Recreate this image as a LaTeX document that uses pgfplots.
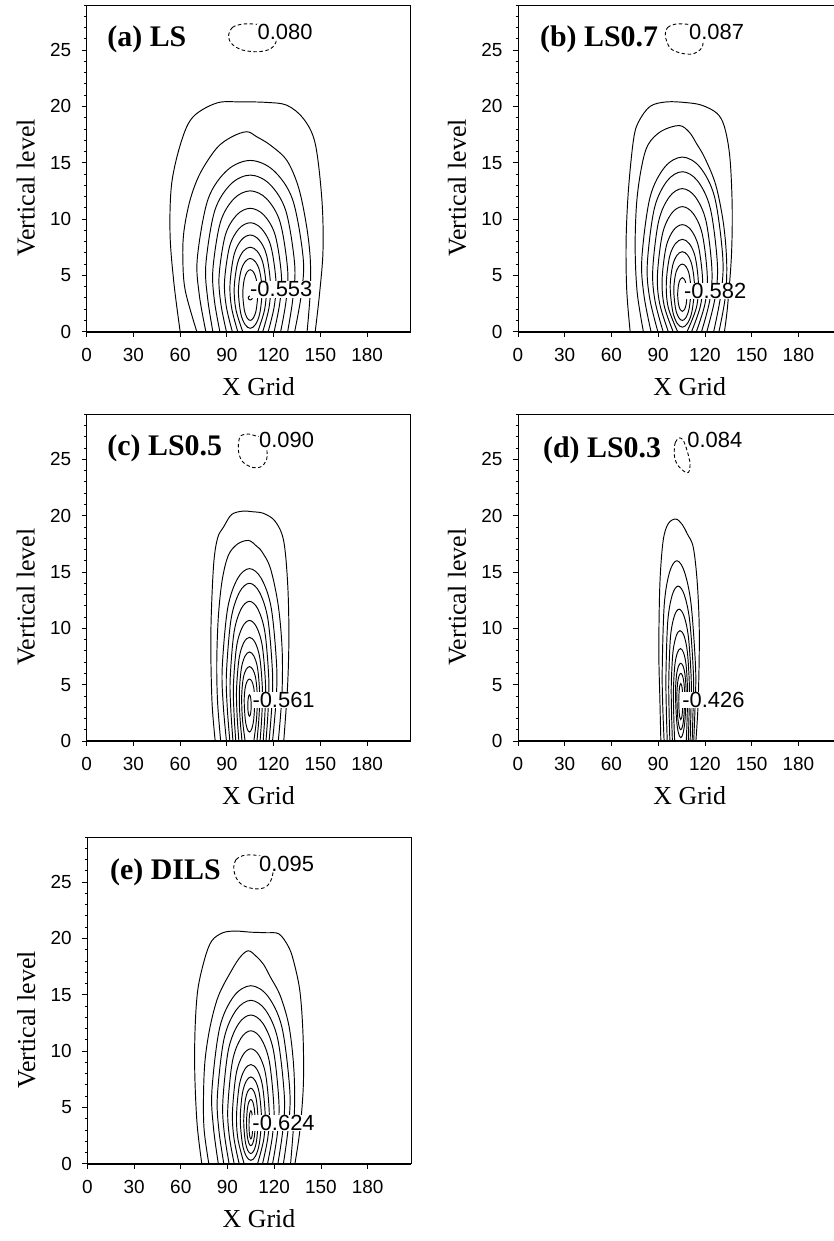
\documentclass[border=0pt]{standalone}
\usepackage{fontspec}
\setmainfont{Liberation Serif}
\setsansfont{Liberation Sans}
\usepackage{pgfplots}
\pgfplotsset{compat=1.18}
\pgfplotsset{
 panel/.style={
  scale only axis, width=324bp, height=326.7bp, anchor=south west,
  xmin=0, xmax=208, ymin=0, ymax=29, clip=false,
  xtick={0,30,60,90,120,150,180}, ytick={0,5,10,15,20,25},
  minor ytick={1,2,3,4,6,7,8,9,11,12,13,14,16,17,18,19,21,22,23,24,26,27,28,29},
  xtick pos=left, ytick pos=left, tick align=outside,
  major tick length=5bp, minor tick length=2.5bp,
  every tick/.style={black, line width=0.8bp},
  axis line style={line width=0.8bp},
  tick label style={font=\sffamily\fontsize{19}{19}\selectfont},
  xticklabel style={yshift=-8bp},
  yticklabel style={xshift=-7bp},
  /pgf/number format/assume math mode=true,
  xlabel={X Grid}, ylabel={Vertical level},
  every axis x label/.style={at={(axis description cs:0.53,-0.168)}, anchor=center, font=\fontsize{26}{26}\selectfont},
  every axis y label/.style={at={(axis description cs:-0.188,0.44)}, anchor=center, rotate=90, font=\fontsize{26}{26}\selectfont},
 },
 cnt/.style={black, line width=0.95bp, smooth, tension=0.55, mark=none},
 cntc/.style={black, line width=0.95bp, smooth cycle, tension=0.55, mark=none},
 dsh/.style={black, line width=0.9bp, smooth cycle, tension=0.55, mark=none, dash pattern=on 3.5bp off 2.5bp},
}
\newcommand{\plab}{\bfseries\fontsize{30}{30}\selectfont}
\newcommand{\clab}{\sffamily\fontsize{22}{22}\selectfont}
\begin{document}
\begin{tikzpicture}
\useasboundingbox (0,0) rectangle (834bp,1241bp);
%================ (a) LS
\begin{axis}[panel, at={(86.7bp,909.3bp)}]
\addplot[cnt] coordinates {(60,0) (56,4.3) (53.5,8.7) (54.6,13.2) (61,17) (68.5,19.1) (83.5,20.3) (98.5,20.4) (115.7,20.35) (128.5,20.1) (139.2,18.9) (146.7,16.7) (151,11.7) (151.7,7.2) (149.5,3.4) (146.7,0)};
\addplot[cnt] coordinates {(70.7,0) (63.2,3.7) (61.7,6.66) (62.5,9.0) (66.4,11.7) (72.8,14.05) (83.5,16.3) (93.2,17.3) (102.8,17.75) (109.2,17.3) (117.8,16.57) (128.5,15.2) (136,12.8) (141,9.5) (143.5,6.5) (143.5,3.5) (141.5,0)};
\addplot[cnt] coordinates {(76.5,0)(72.3,3.25)(71,6.5)(77.8,11.72)(90.2,14.33)(105,15.2)(119.8,14.33)(132.2,11.72)(139,6.5)(137.7,3.25)(133.5,0)};
\addplot[cnt] coordinates {(81,0)(77.6,3)(76.5,6)(82.2,10.74)(92.6,13.11)(105,13.9)(117.4,13.11)(127.8,10.74)(133.5,6)(132.4,3)(129,0)};
\addplot[cnt] coordinates {(85.5,0)(82,2.75)(81,5.5)(85.8,9.7)(94.5,11.8)(105,12.5)(115.5,11.8)(124.2,9.7)(129,5.5)(128,2.75)(124.5,0)};
\addplot[cnt] coordinates {(89.7,0)(86.1,2.5)(85,5)(89,8.57)(96.3,10.36)(105,10.95)(113.7,10.36)(121,8.57)(125,5)(123.9,2.5)(120.3,0)};
\addplot[cnt] coordinates {(93.5,0)(89.6,2.25)(88.5,4.5)(91.8,7.6)(97.8,9.15)(105,9.67)(112.2,9.15)(118.2,7.6)(121.5,4.5)(120.4,2.25)(116.5,0)};
\addplot[cnt] coordinates {(97,0)(93.05,2.1)(92,4.2)(94.6,6.83)(99.3,8.14)(105,8.58)(110.7,8.14)(115.4,6.83)(118,4.2)(117,2.1)(113,0)};
\addplot[cnt] coordinates {(100.2,0)(95.8,1.95)(94.7,3.9)(96.8,6.06)(100.5,7.14)(105,7.5)(109.5,7.14)(113.2,6.06)(115.3,3.9)(114.2,1.95)(109.8,0)};
\addplot[cntc] coordinates {(105,6.5)(108.3,6.21)(111.1,5.34)(112.6,3.6)(111.1,1.62)(108.3,0.63)(105,0.3)(101.7,0.63)(98.9,1.62)(97.4,3.6)(98.9,5.34)(101.7,6.21)};
\addplot[cntc] coordinates {(105,5.5)(107.1,5.29)(108.84,4.66)(109.8,3.4)(108.84,1.96)(107.1,1.24)(105,1.0)(102.9,1.24)(101.16,1.96)(100.2,3.4)(101.16,4.66)(102.9,5.29)};
\addplot[cntc] coordinates {(106.3,3.0)(105.9,3.13)(105,3.18)(104.1,3.13)(103.7,3.0)(104.1,2.87)(105,2.82)(105.9,2.87)};
\addplot[dsh] coordinates {(91,26.2)(93.5,27.0)(100,27.3)(108,27.3)(116,27.1)(121,26.4)(121.5,25.7)(118,25.1)(110,24.85)(100,25.0)(93.5,25.5)};
\node[anchor=west, font=\clab, fill=white, inner sep=0.5pt] at (axis cs:109.3,26.6) {0.080};
\node[anchor=west, font=\clab, fill=white, inner sep=0.5pt] at (axis cs:104.5,3.75) {-0.553};
\node[anchor=base west, font=\plab, inner sep=0pt] at (axis cs:13.2,25.35) {(a) LS};
\draw[line width=1.8bp] (rel axis cs:0,0) -- (rel axis cs:1,0);
\end{axis}
%================ (b) LS0.7
\begin{axis}[panel, at={(518bp,909.3bp)}]
\addplot[cnt] coordinates {(72,0)(69.8,3.7)(69.4,8.1)(70.9,12.6)(74.1,17)(77.3,18.6)(84.8,20)(95.5,20.4)(108.3,20.33)(118,20.1)(127.6,19.4)(132.5,18.2)(136,15.5)(137.5,11.1)(137,6.7)(134.5,2.2)(132.5,0)};
\addplot[cnt] coordinates {(80.5,0)(76.5,3.5)(75.2,7.5)(76.2,11.5)(79.3,14.6)(83.5,16.6)(92,17.8)(103.5,18.3)(110,17.7)(114.6,16.7)(120,15.4)(127,13)(132,9.5)(134,6)(133,3)(129,0)};
\addplot[cnt] coordinates {(85.4,0)(80.84,3.25)(79.5,6.5)(84.7,11.9)(94.16,14.6)(105.5,15.5)(116.84,14.6)(126.3,11.9)(131.5,6.5)(130.16,3.25)(125.6,0)};
\addplot[cnt] coordinates {(89.8,0)(84.5,3)(83,6)(87.5,10.92)(95.69,13.38)(105.5,14.2)(115.31,13.38)(123.5,10.92)(128,6)(126.5,3)(121.2,0)};
\addplot[cnt] coordinates {(93.2,0)(87.93,2.75)(86.5,5.5)(90.3,9.82)(97.22,11.98)(105.5,12.7)(113.78,11.98)(120.7,9.82)(124.5,5.5)(123.07,2.75)(117.8,0)};
\addplot[cnt] coordinates {(96.5,0)(90.93,2.5)(89.5,5)(92.7,8.66)(98.52,10.49)(105.5,11.1)(112.48,10.49)(118.3,8.66)(121.5,5)(120.07,2.5)(114.5,0)};
\addplot[cnt] coordinates {(99.6,0)(93.86,2.3)(92.5,4.6)(95.1,7.54)(99.83,9.01)(105.5,9.5)(111.17,9.01)(115.9,7.54)(118.5,4.6)(117.14,2.3)(111.4,0)};
\addplot[cnt] coordinates {(102.5,0)(96.45,2.15)(95.2,4.3)(97.26,6.64)(101.01,7.81)(105.5,8.2)(109.99,7.81)(113.74,6.64)(115.8,4.3)(114.55,2.15)(108.5,0)};
\addplot[cntc] coordinates {(105.5,7.1)(108.9,6.79)(111.74,5.86)(113.3,4)(111.74,1.84)(108.9,0.76)(105.5,0.4)(102.1,0.76)(99.26,1.84)(97.7,4)(99.26,5.86)(102.1,6.79)};
\addplot[cntc] coordinates {(105.5,6)(107.9,5.77)(109.9,5.08)(111,3.7)(109.9,2.08)(107.9,1.27)(105.5,1)(103.1,1.27)(101.1,2.08)(100,3.7)(101.1,5.08)(103.1,5.77)};
\addplot[cntc] coordinates {(105.5,4.8)(106.81,4.65)(107.9,4.2)(108.5,3.3)(107.9,2.4)(106.81,1.95)(105.5,1.8)(104.19,1.95)(103.1,2.4)(102.5,3.3)(103.1,4.2)(104.19,4.65)};
\addplot[dsh] coordinates {(94.5,26.3)(96,27.0)(101,27.3)(108,27.3)(114,27.1)(118.5,26.2)(118,25.2)(112,24.65)(104,24.75)(97.5,25.2)};
\node[anchor=west, font=\clab, fill=white, inner sep=0.5pt] at (axis cs:109.4,26.57) {0.087};
\node[anchor=west, font=\clab, fill=white, inner sep=0.5pt] at (axis cs:106.2,3.6) {-0.582};
\node[anchor=base west, font=\plab, inner sep=0pt] at (axis cs:14.1,25.35) {(b) LS0.7};
\draw[line width=1.8bp] (rel axis cs:0,0) -- (rel axis cs:1,0);
\end{axis}
%================ (c) LS0.5
\begin{axis}[panel, at={(86.7bp,500bp)}]
\addplot[cnt] coordinates {(82.5,0)(80.4,3.6)(79.7,9.5)(81.4,15.5)(84,18)(87.9,19.0)(93,20.1)(100,20.4)(106.5,20.35)(113.6,20.2)(121,19.5)(126.4,17.8)(129,14)(129.8,9.5)(129,5)(126.5,0)};
\addplot[cnt] coordinates {(86,0)(84,3.5)(83.5,7)(84.5,11)(87,14.3)(91,16.5)(97,17.5)(104,17.8)(109,17.3)(112.5,16.8)(118,15.3)(123,12)(125.5,8)(125.3,4)(123,0)};
\addplot[cnt] coordinates {(89.7,0)(87.63,3.25)(87,6.5)(90.5,11.78)(96.87,14.42)(104.5,15.3)(112.13,14.42)(118.5,11.78)(122,6.5)(121.37,3.25)(119.3,0)};
\addplot[cnt] coordinates {(91.9,0)(90.22,3)(89.7,6)(92.66,10.8)(98.05,13.2)(104.5,14)(110.95,13.2)(116.34,10.8)(119.3,6)(118.78,3)(117.1,0)};
\addplot[cnt] coordinates {(93.9,0)(92.53,2.75)(92.1,5.5)(94.58,9.64)(99.09,11.71)(104.5,12.4)(109.91,11.71)(114.42,9.64)(116.9,5.5)(116.47,2.75)(115.1,0)};
\addplot[cnt] coordinates {(95.7,0)(94.56,2.5)(94.2,5)(96.26,8.42)(100.01,10.13)(104.5,10.7)(108.99,10.13)(112.74,8.42)(114.8,5)(114.44,2.5)(113.3,0)};
\addplot[cnt] coordinates {(97.7,0)(96.55,2.3)(96.2,4.6)(97.86,7.36)(100.88,8.74)(104.5,9.2)(108.12,8.74)(111.14,7.36)(112.8,4.6)(112.45,2.3)(111.3,0)};
\addplot[cnt] coordinates {(99.7,0)(98.38,2.15)(98,4.3)(99.3,6.46)(101.67,7.54)(104.5,7.9)(107.33,7.54)(109.7,6.46)(111,4.3)(110.62,2.15)(109.3,0)};
\addplot[cnt] coordinates {(101.7,0)(99.95,2)(99.5,4)(100.5,5.56)(102.32,6.34)(104.5,6.6)(106.68,6.34)(108.5,5.56)(109.5,4)(109.05,2)(107.3,0)};
\addplot[cntc] coordinates {(104.5,5.5)(105.98,5.31)(107.22,4.74)(107.9,3.6)(107.22,1.92)(105.98,1.08)(104.5,0.8)(103.02,1.08)(101.78,1.92)(101.1,3.6)(101.78,4.74)(103.02,5.31)};
\addplot[cntc] coordinates {(104.5,4.1)(104.98,4.0)(105.38,3.72)(105.6,3.15)(105.38,2.58)(104.98,2.3)(104.5,2.2)(104.02,2.3)(103.62,2.58)(103.4,3.15)(103.62,3.72)(104.02,4.0)};
\addplot[dsh] coordinates {(97.5,26.5)(99,27.1)(104,27.25)(108,27.1)(113,26.9)(115.5,26)(115.5,25)(112,24.35)(106,24.3)(100,24.8)(97.6,25.6)};
\node[anchor=west, font=\clab, fill=white, inner sep=0.5pt] at (axis cs:110.3,26.7) {0.090};
\node[anchor=west, font=\clab, fill=white, inner sep=0.5pt] at (axis cs:106,3.64) {-0.561};
\node[anchor=base west, font=\plab, inner sep=0pt] at (axis cs:13.2,25.35) {(c) LS0.5};
\draw[line width=1.8bp] (rel axis cs:0,0) -- (rel axis cs:1,0);
\end{axis}
%================ (d) LS0.3
\begin{axis}[panel, at={(518bp,500bp)}]
\addplot[cnt] coordinates {(91.7,0)(91.1,3.6)(90.4,8.1)(91.1,14)(93.2,17.8)(96.5,19.3)(101.4,19.7)(105.5,19.2)(108.6,18.4)(112.5,17.2)(115.1,14)(116.4,9.5)(115.7,3.6)(114.2,0)};
\addplot[cnt] coordinates {(93.8,0)(92.89,3.25)(92.6,6.5)(93.94,12.2)(97.43,15.05)(102,16)(106.77,15.05)(111.06,12.2)(114,6.5)(113.71,3.25)(112.8,0)};
\addplot[cnt] coordinates {(95.8,0)(95.19,3)(95,6)(96.16,10.65)(99.06,12.98)(102.8,13.75)(106.74,12.98)(110.24,10.65)(112.6,6)(112.41,3)(111.8,0)};
\addplot[cnt] coordinates {(97.5,0)(96.97,2.75)(96.8,5.5)(97.88,9.22)(100.32,11.08)(103.4,11.7)(106.6,11.08)(109.4,9.22)(111.2,5.5)(111.03,2.75)(110.5,0)};
\addplot[cnt] coordinates {(99.1,0)(98.57,2.5)(98.4,5)(99.46,7.88)(101.57,9.32)(104,9.8)(106.63,9.32)(108.74,7.88)(110,5)(109.83,2.5)(109.3,0)};
\addplot[cnt] coordinates {(100.55,0)(99.98,2.3)(99.8,4.6)(100.7,6.76)(102.34,7.84)(104.3,8.2)(106.26,7.84)(107.9,6.76)(108.8,4.6)(108.62,2.3)(108.05,0)};
\addplot[cntc] coordinates {(104.5,6.9)(105.98,6.64)(107.22,5.86)(107.9,4.3)(107.22,1.9)(105.98,0.7)(104.5,0.3)(103.02,0.7)(101.78,1.9)(101.1,4.3)(101.78,5.86)(103.02,6.64)};
\addplot[cntc] coordinates {(104.5,6)(105.59,5.8)(106.5,5.2)(107,4)(106.5,2.2)(105.59,1.3)(104.5,1)(103.41,1.3)(102.5,2.2)(102,4)(102.5,5.2)(103.41,5.8)};
\addplot[cntc] coordinates {(104.5,5.1)(105.07,4.94)(105.54,4.46)(105.8,3.5)(105.54,2.54)(105.07,2.06)(104.5,1.9)(103.93,2.06)(103.46,2.54)(103.2,3.5)(103.46,4.46)(103.93,4.94)};
\addplot[dsh] coordinates {(100.3,25.7)(101,26.5)(103.5,26.9)(106,26.7)(108.5,25.8)(110.5,24.6)(109.5,23.85)(107,23.9)(103,24.4)(100.8,25)};
\node[anchor=west, font=\clab, fill=white, inner sep=0.5pt] at (axis cs:108.3,26.7) {0.084};
\node[anchor=west, font=\clab, fill=white, inner sep=0.5pt] at (axis cs:105.1,3.64) {-0.426};
\node[anchor=base west, font=\plab, inner sep=0pt] at (axis cs:16,25.2) {(d) LS0.3};
\draw[line width=1.8bp] (rel axis cs:0,0) -- (rel axis cs:1,0);
\end{axis}
%================ (e) DILS
\begin{axis}[panel, at={(87.3bp,77.3bp)}]
\addplot[cnt] coordinates {(73.5,0)(70.5,3.5)(69,8)(69.2,12)(71,15.5)(75.6,18.3)(80,19.8)(87,20.5)(95,20.65)(105,20.55)(115,20.5)(123,20.4)(129,19.3)(132.4,18)(136.5,15.3)(138.5,11.4)(138.7,7)(136.5,3)(133.3,0)};
\addplot[cnt] coordinates {(78,0)(75,3)(74.6,6)(75.6,9.2)(78.9,12.2)(84.2,14.9)(92.8,17.2)(98.5,18.4)(103.5,18.9)(108.5,18.4)(113.1,17.7)(117.4,16.6)(123.9,14.9)(129.5,12.2)(132.5,8.6)(133,4.8)(130.5,0)};
\addplot[cnt] coordinates {(84.1,0)(80.96,3.25)(80,6.5)(85,12.08)(94.1,14.87)(105,15.8)(115.9,14.87)(125,12.08)(130,6.5)(129.04,3.25)(125.9,0)};
\addplot[cnt] coordinates {(87.65,0)(84.46,3)(83.5,6)(87.8,11.1)(95.63,13.65)(105,14.5)(114.37,13.65)(122.2,11.1)(126.5,6)(125.54,3)(122.35,0)};
\addplot[cnt] coordinates {(91.05,0)(87.92,2.75)(87,5.5)(90.6,10.12)(97.15,12.43)(105,13.2)(112.85,12.43)(119.4,10.12)(123,5.5)(122.08,2.75)(118.95,0)};
\addplot[cnt] coordinates {(94.3,0)(91.11,2.5)(90.2,5)(93.16,9.08)(98.55,11.12)(105,11.8)(111.45,11.12)(116.84,9.08)(119.8,5)(118.89,2.5)(115.7,0)};
\addplot[cnt] coordinates {(97.5,0)(94.11,2.3)(93.2,4.6)(95.56,7.96)(99.86,9.64)(105,10.2)(110.14,9.64)(114.44,7.96)(116.8,4.6)(115.89,2.3)(112.5,0)};
\addplot[cnt] coordinates {(100.7,0)(96.75,2.15)(95.8,4.3)(97.64,7)(100.99,8.35)(105,8.8)(109.01,8.35)(112.36,7)(114.2,4.3)(113.25,2.15)(109.3,0)};
\addplot[cntc] coordinates {(105,7.7)(107.96,7.33)(110.44,6.22)(111.8,4)(110.44,1.78)(107.96,0.67)(105,0.3)(102.04,0.67)(99.56,1.78)(98.2,4)(99.56,6.22)(102.04,7.33)};
\addplot[cntc] coordinates {(105,6.7)(107.01,6.41)(108.68,5.54)(109.6,3.8)(108.68,2.06)(107.01,1.19)(105,0.9)(102.99,1.19)(101.32,2.06)(100.4,3.8)(101.32,5.54)(102.99,6.41)};
\addplot[cntc] coordinates {(105,5.7)(106.22,5.49)(107.24,4.86)(107.8,3.6)(107.24,2.4)(106.22,1.8)(105,1.6)(103.78,1.8)(102.76,2.4)(102.2,3.6)(102.76,4.86)(103.78,5.49)};
\addplot[cntc] coordinates {(105,4.7)(105.52,4.57)(105.96,4.18)(106.2,3.4)(105.96,2.68)(105.52,2.32)(105,2.2)(104.48,2.32)(104.04,2.68)(103.8,3.4)(104.04,4.18)(104.48,4.57)};
\addplot[dsh] coordinates {(94,26.3)(95.5,27.0)(100,27.35)(107,27.4)(113,27.2)(118.5,26.5)(118.8,25.5)(115,24.6)(108,24.4)(100,24.7)(95.5,25.4)};
\node[anchor=west, font=\clab, fill=white, inner sep=0.5pt] at (axis cs:109.9,26.6) {0.095};
\node[anchor=west, font=\clab, fill=white, inner sep=0.5pt] at (axis cs:105.6,3.6) {-0.624};
\node[anchor=base west, font=\plab, inner sep=0pt] at (axis cs:14.6,25.25) {(e) DILS};
\draw[line width=1.8bp] (rel axis cs:0,0) -- (rel axis cs:1,0);
\end{axis}
\end{tikzpicture}
\end{document}
